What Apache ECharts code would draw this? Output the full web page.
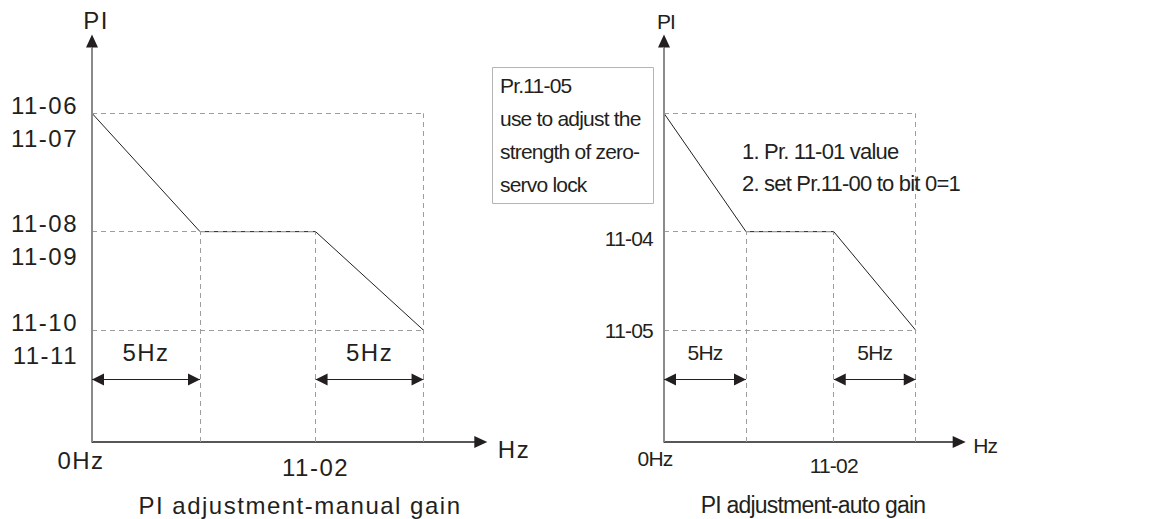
<!DOCTYPE html>
<html>
<head>
<meta charset="utf-8">
<script src="https://cdn.jsdelivr.net/npm/echarts@6/dist/echarts.min.js"></script>
<style>
  html, body { margin: 0; padding: 0; background: #fff; }
  .panel { position: absolute; left: 0; top: 0; width: 1171px; height: 519px; }
  /* manual-gain diagram: loose tracking; auto-gain diagram: tight tracking */
  #manual text { letter-spacing: 1.5px; }
  #auto text { letter-spacing: -0.8px; }
</style>
</head>
<body>
<div id="manual" class="panel"></div>
<div id="auto" class="panel"></div>
<script>
// Corner frequencies of the PI gain profile: 0 Hz, 0+5 Hz, Pr.11-02, Pr.11-02+5 Hz
const freqHz = [0, 5, 10.35, 15.35];
// PI gain at each corner (relative units)
const manualGain = [100, 64, 64, 34];
const autoGain = [100, 64, 64, 34];
// Gain levels marked on the vertical axis
const gainLevels = [100, 64, 34];
// Parameter names at each level (upper / lower line of the label)
const manualUpperLabels = ['11-06', '11-08', '11-10'];
const manualLowerLabels = ['11-07', '11-09', '11-11'];
const autoLevelLabels = ['', '11-04', '11-05'];
// Frequency axis tick labels
const freqTickValues = [0, 10.35];
const freqTickLabels = ['0Hz', '11-02'];
// Width of the ramp zones
const spanHz = 5;
const spanLabel = '5Hz';

const INK = '#231f20';
const GUIDE = '#9d9d9d';
const YAXIS_GREY = '#8a8a8a';
const FONT = '"Liberation Sans", Arial, Helvetica, sans-serif';
const HZ_MAX = 18;
const GAIN_MAX = 122;
const SPAN_ARROW_GAIN = 19;   // height at which the span arrows sit

function txt(size, extra) {
  return Object.assign({ color: INK, fontFamily: FONT, fontSize: size }, extra || {});
}

// vertical nudge of a middle-aligned rich token (positive = down)
function nudge(size, dy) {
  return txt(size, { padding: dy >= 0 ? [2 * dy, 0, 0, 0] : [0, 0, -2 * dy, 0] });
}

function seg(a, b) { return [{ coord: a }, { coord: b }]; }

function dashedGuides(gain) {
  const [f0, f1, f2, f3] = freqHz;
  return [
    seg([f0, gain[0]], [f3, gain[0]]),
    seg([f0, gain[1]], [f2, gain[1]]),
    seg([f0, gain[3]], [f3, gain[3]]),
    seg([f1, 0], [f1, gain[1]]),
    seg([f2, 0], [f2, gain[2]]),
    seg([f3, 0], [f3, gain[0]])
  ];
}

function spanArrows() {
  return [
    seg([freqHz[0], SPAN_ARROW_GAIN], [freqHz[0] + spanHz, SPAN_ARROW_GAIN]),
    seg([freqHz[2], SPAN_ARROW_GAIN], [freqHz[2] + spanHz, SPAN_ARROW_GAIN])
  ];
}

function freqLabelIndex(v) {
  return freqTickValues.findIndex(t => Math.abs(t - v) < 1e-6);
}

// One label-only vertical axis per row of level labels
function levelAxis(labels, tokenStyles, pickToken, p, isMain) {
  const values = gainLevels.filter((_, i) => labels[i]);
  const axis = {
    type: 'value', min: 0, max: GAIN_MAX, position: 'left', offset: 0,
    axisTick: { show: false },
    splitLine: { show: false },
    axisLine: { show: false },
    axisLabel: {
      customValues: values,
      margin: p.levelMargin,
      fontSize: p.fs, color: INK, fontFamily: FONT,
      formatter: v => {
        const i = gainLevels.indexOf(v);
        return labels[i] ? '{' + pickToken(i) + '|' + labels[i] + '}' : '';
      },
      rich: tokenStyles
    }
  };
  if (isMain) {
    Object.assign(axis, {
      name: '{n|PI}', nameLocation: 'end', nameGap: 9,
      nameTextStyle: { rich: { n: txt(p.fs, { padding: [0, 0, 0, p.piShift] }) } },
      axisLine: {
        show: true, symbol: ['none', 'triangle'], symbolSize: [12, 13],
        lineStyle: { color: INK, width: 1 }
      }
    });
  }
  return axis;
}

function buildOption(p) {
  const curve = freqHz.map((f, i) => [f, p.gain[i]]);
  return {
    animation: false,
    textStyle: { fontFamily: FONT, color: INK },
    grid: {
      left: p.left, top: 41, width: p.hzPx * HZ_MAX, height: 401,
      containLabel: false, outerBoundsMode: 'none'
    },
    xAxis: {
      type: 'value', min: 0, max: HZ_MAX,
      name: 'Hz', nameLocation: 'end', nameGap: p.hzNameGap,
      nameTextStyle: txt(p.fs, { verticalAlign: 'top', lineHeight: p.hzNameDrop * 2 }),
      axisLine: {
        show: true, symbol: ['none', 'triangle'], symbolSize: [12, 13],
        lineStyle: { color: INK, width: 1.5 }
      },
      axisTick: { show: false },
      splitLine: { show: false },
      axisLabel: {
        customValues: freqTickValues,
        margin: 6,
        formatter: v => {
          const i = freqLabelIndex(v);
          if (i < 0) return '';
          return (i === 0 ? '{z|' : '{t|') + freqTickLabels[i] + '}';
        },
        rich: {
          z: txt(p.fs, { padding: [0, p.zeroShift, 0, 0] }),
          t: txt(p.fs, { padding: [7, 0, 0, 0] })
        }
      }
    },
    yAxis: p.yAxes,
    graphic: p.graphic,
    series: [
      {
        name: 'guides', type: 'line', data: [], z: 1, silent: true,
        markLine: {
          silent: true, symbol: 'none', animation: false,
          label: { show: false },
          emphasis: { disabled: true },
          lineStyle: { type: [5, 4], color: GUIDE, width: 1 },
          data: dashedGuides(p.gain)
        }
      },
      {
        name: 'axis shade', type: 'line', data: [], z: 2, silent: true,
        markLine: {
          silent: true, symbol: 'none', animation: false,
          label: { show: false },
          emphasis: { disabled: true },
          lineStyle: { type: 'solid', color: YAXIS_GREY, width: 2 },
          data: [seg([0, 0], [0, GAIN_MAX - 2])]
        }
      },
      {
        name: 'spans', type: 'line', data: [], z: 3, silent: true,
        markLine: {
          silent: true, animation: false,
          symbol: ['triangle', 'triangle'], symbolSize: [12, 12],
          symbolOffset: [[0, '50%'], [0, '50%']],
          emphasis: { disabled: true },
          lineStyle: { type: 'solid', color: INK, width: 1 },
          label: Object.assign(txt(p.fs), { show: true, position: 'middle', distance: p.spanLabelGap, formatter: spanLabel }),
          data: spanArrows()
        }
      },
      {
        name: p.title, type: 'line', data: curve, z: 4,
        symbol: 'none', silent: true,
        lineStyle: { color: INK, width: 1 }
      }
    ]
  };
}

// ---- manual gain ----
const manualP = {
  title: 'PI adjustment-manual gain',
  gain: manualGain,
  left: 92, hzPx: 21.6, fs: 24,
  hzNameGap: 17, hzNameDrop: 7, zeroShift: 22,
  levelMargin: 14, spanLabelGap: 15, piShift: 8,
  graphic: [{
    type: 'text', x: 300, y: 505,
    style: txt(24, { text: 'PI adjustment-manual gain', fill: INK, align: 'center', verticalAlign: 'middle' })
  }]
};
manualP.yAxes = [
  levelAxis(manualUpperLabels, { u: nudge(24, -8) }, () => 'u', manualP, true),
  levelAxis(manualLowerLabels, { l: nudge(24, 25) }, () => 'l', manualP, false)
];
const manualChart = echarts.init(document.getElementById('manual'), null, { renderer: 'svg' });
manualChart.setOption(buildOption(manualP));

// ---- auto gain ----
const autoP = {
  title: 'PI adjustment-auto gain',
  gain: autoGain,
  left: 664, hzPx: 16.4, fs: 21,
  hzNameGap: 14, hzNameDrop: 3, zeroShift: 18,
  levelMargin: 11, spanLabelGap: 17, piShift: 4,
  graphic: [
    {
      type: 'rect', z: 10,
      shape: { x: 492.5, y: 67.5, width: 161, height: 136 },
      style: { fill: '#fff', stroke: '#b5b5b5', lineWidth: 1 }
    },
    {
      type: 'text', z: 11, x: 500, y: 68.5,
      style: txt(21, {
        text: 'Pr.11-05\nuse to adjust the\nstrength of zero-\nservo lock',
        fill: INK, lineHeight: 33, align: 'left', verticalAlign: 'top'
      })
    },
    {
      type: 'text', z: 11, x: 742, y: 135,
      style: txt(22, {
        text: '1. Pr. 11-01 value\n2. set Pr.11-00 to bit 0=1',
        fill: INK, lineHeight: 32, align: 'left', verticalAlign: 'top'
      })
    },
    {
      type: 'text', x: 813, y: 505,
      style: txt(23, { text: 'PI adjustment-auto gain', fill: INK, align: 'center', verticalAlign: 'middle' })
    }
  ]
};
autoP.yAxes = [
  levelAxis(autoLevelLabels, { s: nudge(21, 7), p: nudge(21, 0) }, i => (i === 1 ? 's' : 'p'), autoP, true)
];
const autoChart = echarts.init(document.getElementById('auto'), null, { renderer: 'svg' });
autoChart.setOption(buildOption(autoP));
</script>
</body>
</html>
